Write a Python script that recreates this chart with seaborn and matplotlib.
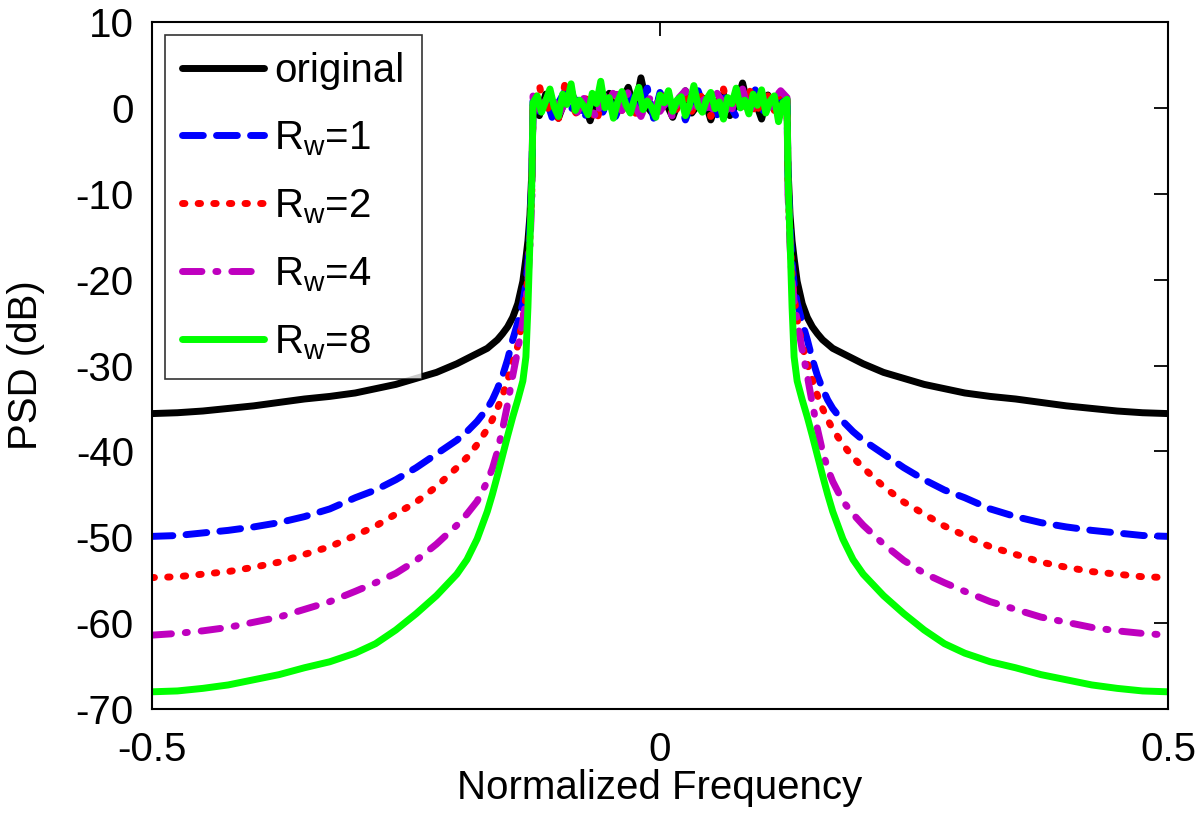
import numpy as np
import pandas as pd
import matplotlib
matplotlib.use("Agg")
import matplotlib.pyplot as plt
import seaborn as sns

# ---------------- data ----------------
labels = ["original", "R$_\\mathregular{w}$=1", "R$_\\mathregular{w}$=2",
          "R$_\\mathregular{w}$=4", "R$_\\mathregular{w}$=8"]
colors = ["#000000", "#0000ff", "#ff0000", "#bf00bf", "#00ff00"]

# left stop-band frequencies (right side mirrors them)
f_stop = [-0.5, -0.475, -0.45, -0.425, -0.40, -0.375, -0.35, -0.325, -0.30,
          -0.28, -0.26, -0.24, -0.22, -0.20, -0.19, -0.18, -0.17, -0.165,
          -0.16, -0.155, -0.15, -0.145, -0.14, -0.135, -0.132, -0.13,
          -0.128, -0.126]

orig_stop = [-35.6, -35.5, -35.3, -35.0, -34.7, -34.3, -33.9, -33.6, -33.2,
             -32.7, -32.2, -31.5, -30.8, -29.8, -29.2, -28.6, -28.0, -27.5,
             -27.0, -26.3, -25.5, -24.4, -22.8, -20.2, -17.5, -15.5,
             -12.5, -7.0]
rw1_stop = [-49.9, -49.8, -49.5, -49.2, -48.8, -48.3, -47.6, -46.7, -45.4,
            -44.5, -43.3, -41.9, -40.3, -38.7, -37.7, -36.5, -35.0, -34.0,
            -32.7, -31.2, -29.3, -27.0, -25.0, -22.7, -20.5, -18.0,
            -14.0, -8.0]
rw2_stop = [-54.7, -54.6, -54.3, -54.0, -53.5, -52.9, -52.0, -51.1, -49.8,
            -48.7, -47.3, -45.9, -44.1, -41.9, -40.7, -39.2, -37.4, -36.3,
            -35.0, -33.5, -31.7, -29.8, -27.7, -24.6, -22.0, -19.5,
            -15.0, -9.0]
rw4_stop = [-61.4, -61.2, -60.9, -60.5, -59.9, -59.3, -58.4, -57.5, -56.3,
            -55.3, -54.2, -52.7, -50.8, -48.6, -47.3, -45.8, -43.5, -42.0,
            -40.0, -37.4, -34.5, -31.2, -28.2, -24.8, -22.5, -20.0,
            -16.0, -10.0]
rw8_stop = [-68.0, -67.9, -67.6, -67.2, -66.6, -66.0, -65.2, -64.5, -63.5,
            -62.4, -60.8, -58.9, -56.8, -54.3, -52.6, -50.2, -47.0, -45.0,
            -42.8, -40.5, -38.2, -36.0, -34.0, -31.8, -29.0, -23.2,
            -15.4, -8.0]

# pass-band ripple (dB)
orig_pass = [0.3, -0.9, 1.6, 0.2, -1.2, 0.8, 2.1, -0.4, 0.6, -1.5, 1.2,
             0.4, 1.7, -0.7, 0.9, 2.4, -0.3, 3.5, 0.1, -0.8, 1.4, 0.5,
             -1.1, 0.9, 2.0, -0.6, 0.4, 1.1, -1.4, 0.7, 1.6, -0.9, 0.3,
             2.9, -0.2, 0.8, -1.3, 1.5, 0.0, 0.6, 1.0]
rw1_pass = [0.8, -0.4, 1.3, -1.1, 0.6, 1.9, -0.2, 0.9, -1.3, 0.4, 2.2,
            -0.5, 1.0, -1.0, 0.7, 1.6, -0.3, 0.5, 2.3, -1.2, 1.8, 0.2,
            -0.6, 1.1, -1.4, 0.6, 2.0, -0.1, 0.9, -0.8, 1.4, 0.3, -1.0,
            1.7, 0.5, 2.1, -0.7, 0.8, -0.2, 1.2, 0.6]
rw2_pass = [0.2, 2.6, -0.6, 1.0, -1.3, 2.7, 0.4, -0.9, 1.5, 0.1, -1.6,
            1.2, 0.8, 2.3, -0.3, 0.6, -1.1, 1.7, 0.3, -0.7, 1.0, 2.0,
            -1.2, 0.5, 1.3, -0.4, 0.9, 1.8, -1.0, 0.4, 2.2, -0.5, 1.1,
            0.0, 2.5, -0.8, 0.7, 1.4, -0.3, 1.9, 0.8]
rw4_pass = [1.4, -0.2, 0.9, 1.8, -0.9, 0.5, 2.1, -0.5, 1.1, 0.3, -1.2,
            1.6, 0.6, 2.4, -0.3, 1.9, 0.2, -1.0, 0.8, 1.5, -0.4, 0.7,
            -1.1, 1.2, 2.0, -0.6, 0.4, 1.0, -0.8, 1.7, 0.5, -0.9, 1.3,
            2.2, -0.4, 0.6, 1.8, -0.7, 1.1, 2.0, 1.2]
rw8_pass = [0.6, 1.4, -0.5, 0.8, 2.2, 0.1, -1.0, 1.6, 0.4, 2.8, -0.3,
            0.9, 0.2, -0.8, 1.7, 0.5, 3.1, 0.0, 1.2, -1.2, 0.7, 1.9,
            0.3, -0.6, 1.1, 2.4, -0.2, 0.8, 0.1, -1.1, 1.5, 0.6, 2.0,
            -0.4, 0.9, 1.3, -0.9, 0.4, 2.6, 0.2, -0.5, 1.0, 1.8, -0.1,
            0.7, -1.3, 1.2, 0.5, 2.3, 0.0, 0.9, -0.7, 1.6, 0.3, 2.1,
            -0.6, 0.8, 1.4, -1.6, 0.6, 1.0]

x_ticks = [-0.5, 0, 0.5]
x_ticklabels = ["-0.5", "0", "0.5"]
y_ticks = [-70, -60, -50, -40, -30, -20, -10, 0, 10]

stop_sets = [orig_stop, rw1_stop, rw2_stop, rw4_stop, rw8_stop]
pass_sets = [orig_pass, rw1_pass, rw2_pass, rw4_pass, rw8_pass]

# ---------------- build tables ----------------
frames = []
for lab, st, pb in zip(labels, stop_sets, pass_sets):
    fl = np.array(f_stop)
    fp = np.linspace(-0.125, 0.125, len(pb))
    f = np.concatenate([fl, fp, -fl[::-1]])
    v = np.concatenate([np.array(st), np.array(pb), np.array(st)[::-1]])
    frames.append(pd.DataFrame({"f": f, "psd": v, "series": lab}))

# ---------------- style ----------------
sns.set_theme(style="white")
plt.rcParams["font.family"] = ["Liberation Sans", "DejaVu Sans"]
plt.rcParams["mathtext.fontset"] = "custom"
plt.rcParams["mathtext.rm"] = "Liberation Sans"
plt.rcParams["mathtext.it"] = "Liberation Sans:italic"
plt.rcParams["axes.unicode_minus"] = False

FS = 29
fig = plt.figure(figsize=(12, 8.22), dpi=100)
ax = fig.add_axes([0.1267, 0.1375, 0.8466, 0.8357])

lw = 5.0
dash_styles = ["-", (0, (3.0, 1.9)), (0, (0.35, 1.9)),
               (0, (2.8, 2.0, 0.3, 2.0)), "-"]
for df, col, ds in zip(frames, colors, dash_styles):
    sns.lineplot(data=df, x="f", y="psd", ax=ax, color=col, lw=lw,
                 linestyle=ds, sort=False, estimator=None,
                 label=df["series"].iloc[0],
                 solid_capstyle="round", dash_capstyle="round",
                 solid_joinstyle="round")

ax.set_xlim(-0.5, 0.5)
ax.set_ylim(-70, 10)
ax.set_xticks(x_ticks)
ax.set_xticklabels(x_ticklabels)
ax.set_yticks(y_ticks)
ax.tick_params(direction="in", length=10, width=1.3, labelsize=FS,
               top=True, right=True, colors="black")
ax.tick_params(axis="x", pad=16)
ax.tick_params(axis="y", pad=13)
for s in ax.spines.values():
    s.set_visible(True)
    s.set_color("black")
    s.set_linewidth(1.5)
ax.set_xlabel("Normalized Frequency", fontsize=FS, labelpad=0, color="black")
ax.set_ylabel("PSD (dB)", fontsize=FS, labelpad=22, color="black")

leg = ax.legend(loc="upper left", fontsize=FS, frameon=True, fancybox=False,
                edgecolor="black", handlelength=2.05, handletextpad=0.25,
                labelspacing=0.73, borderpad=0.42, borderaxespad=0.32)
leg.get_frame().set_linewidth(1.2)
for t in leg.get_texts():
    t.set_color("black")

fig.savefig("out.png", dpi=100, facecolor="white")
